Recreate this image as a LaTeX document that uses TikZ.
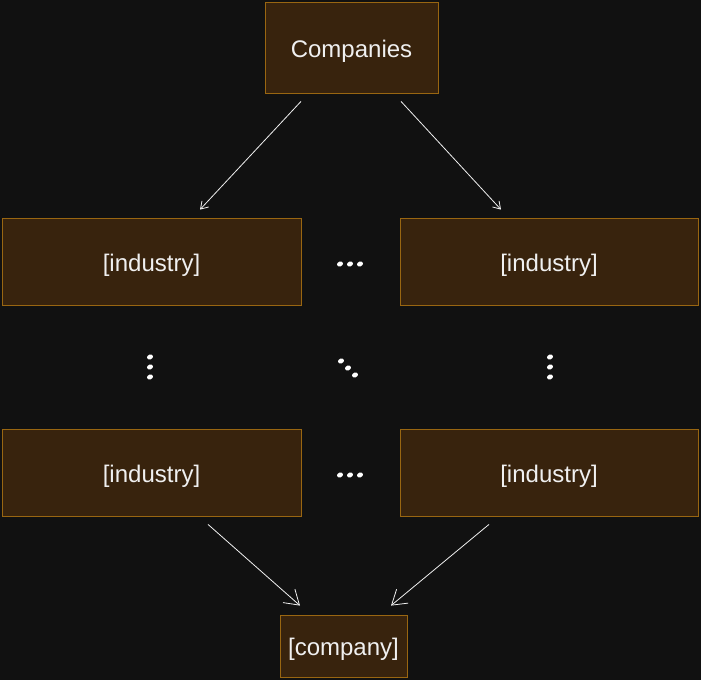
\documentclass[tikz,border=0pt]{standalone}
\usepackage{fontspec}
\setmainfont{Liberation Sans}
\usetikzlibrary{arrows.meta,calc}
\definecolor{bg}{RGB}{17,17,17}
\definecolor{boxfill}{RGB}{56,35,13}
\definecolor{boxline}{RGB}{153,102,17}
\definecolor{txt}{RGB}{240,240,240}
\tikzset{
  box/.style={draw=boxline, fill=boxfill, line width=0.8pt, text=txt, inner sep=0pt,
    text height=19pt, text depth=0pt,
    font=\fontsize{24}{28}\selectfont},
  conn/.style={draw=txt, line width=0.8pt},
  dotmark/.style={fill=white, draw=none},
}
\begin{document}
\begin{tikzpicture}[x=1pt,y=-1pt]
\fill[bg] (0,0) rectangle (701,680);
\useasboundingbox (0,0) rectangle (701,680);
\node[box, minimum width=173, minimum height=91] (comp) at (351.5,47.5) {Companies};
\node[box, minimum width=299, minimum height=87] (tl) at (151.5,261.5) {[industry]};
\node[box, minimum width=298, minimum height=87] (tr) at (549,261.5) {[industry]};
\node[box, minimum width=299, minimum height=87] (bl) at (151.5,472.5) {[industry]};
\node[box, minimum width=298, minimum height=87] (br) at (549,472.5) {[industry]};
\node[box, minimum width=127, minimum height=62] (co) at (343.5,646) {[company]};
\draw[conn, -{Straight Barb[length=7pt,width=9pt]}] ($(comp.south)+(-50.5,8)$) -- ($(tl.north)+(48.5,-8)$);
\draw[conn, -{Straight Barb[length=7pt,width=9pt]}] ($(comp.south)+(49.5,8)$) -- ($(tr.north)+(-48,-8)$);
\draw[conn, -{Straight Barb[length=14pt,width=18pt]}] ($(bl.south)+(56.5,8)$) -- ($(co.north)+(-43.5,-9)$);
\draw[conn, -{Straight Barb[length=14pt,width=18pt]}] ($(br.south)+(-60,8)$) -- ($(co.north)+(47.5,-9)$);
% ellipsis dots
\foreach \x/\y in {340/264,350/264,360/264, 340/475,350/475,360/475,
                   150/357,150/367,150/377, 550/357,550/367,550/377,
                   341/361,348/368,355/375}
  \fill[dotmark, rotate around={20:(\x,\y)}] (\x,\y) ellipse [x radius=3.1, y radius=2.4];
\end{tikzpicture}
\end{document}
